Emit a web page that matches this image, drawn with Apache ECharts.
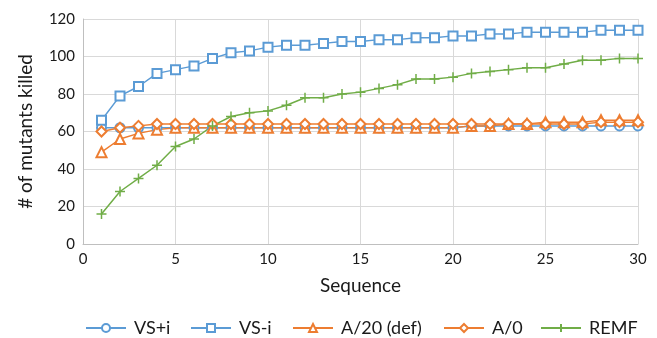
<!DOCTYPE html>
<html>
<head>
<meta charset="utf-8">
<script src="https://cdn.jsdelivr.net/npm/echarts@6/dist/echarts.min.js"></script>
<style>
html,body{margin:0;padding:0;background:#fff;}
#chart{width:657px;height:338px;}
</style>
</head>
<body>
<div id="chart"></div>
<script>
const sequence = [1,2,3,4,5,6,7,8,9,10,11,12,13,14,15,16,17,18,19,20,21,22,23,24,25,26,27,28,29,30];
const vsPlusI = [62,62,62,62,62,62,62,62,62,62,62,62,62,62,62,62,62,62,62,62,63,63,63,63,63,63,63,63,63,63];
const vsMinusI = [66,79,84,91,93,95,99,102,103,105,106,106,107,108,108,109,109,110,110,111,111,112,112,113,113,113,113,114,114,114];
const a20 = [49,56,59,61,62,62,62,62,62,62,62,62,62,62,62,62,62,62,62,62,63,63,64,64,65,65,65,66,66,66];
const a0 = [60,62,63,64,64,64,64,64,64,64,64,64,64,64,64,64,64,64,64,64,64,64,64,64,64,64,64,65,65,65];
const remf = [16,28,35,42,52,56,63,68,70,71,74,78,78,80,81,83,85,88,88,89,91,92,93,94,94,96,98,98,99,99];
const seriesNames = ['VS+i','VS-i','A/20 (def)','A/0','REMF'];
const xTicks = {min:0, max:30, interval:5};
const yTicks = {min:0, max:120, interval:20};

const font = 'Lato, "Open Sans", sans-serif';
const txt = '#1a1a1a';
const blue = '#5B9BD5', orange = '#ED7D31', green = '#70AD47';
function pairs(arr){ return sequence.map((s,i)=>[s,arr[i]]); }
function mk(name, data, color, symbol, size){
  return {
    name, type:'line', data: pairs(data), symbol, symbolSize: size,
    showAllSymbol: true,
    lineStyle:{color, width:1.5},
    itemStyle:{color, borderColor: color, borderWidth:1.5},
    color,
    emphasis:{disabled:true}, animation:false
  };
}
const legendLefts = [80, 185, 287, 438, 535];
const legends = seriesNames.map((n,i)=>({
  top:314, left:legendLefts[i], itemWidth:40, itemHeight:10, itemGap:0,
  textStyle:{fontSize:18, color:txt, fontFamily:font, padding:[0,0,0,3]},
  data:[n]
}));
const chart = echarts.init(document.getElementById('chart'));
chart.setOption({
  animation:false,
  textStyle:{fontFamily:font},
  grid:{left:83, right:19, top:19, bottom:94},
  xAxis:{
    type:'value', min:xTicks.min, max:xTicks.max, interval:xTicks.interval,
    name:'Sequence', nameLocation:'middle', nameGap:32,
    nameTextStyle:{fontSize:19, color:txt, fontFamily:font},
    axisLine:{show:true, lineStyle:{color:'#BFBFBF'}},
    axisTick:{show:false},
    axisLabel:{fontSize:15, color:txt, margin:8, fontFamily:font},
    splitLine:{show:true, lineStyle:{color:'#D9D9D9'}}
  },
  yAxis:{
    type:'value', min:yTicks.min, max:yTicks.max, interval:yTicks.interval,
    name:'# of mutants killed', nameLocation:'middle', nameGap:48,
    nameTextStyle:{fontSize:19, color:txt, fontFamily:font},
    axisLine:{show:true, lineStyle:{color:'#BFBFBF'}},
    axisTick:{show:false},
    axisLabel:{fontSize:15, color:txt, margin:8, fontFamily:font},
    splitLine:{show:true, lineStyle:{color:'#D9D9D9'}}
  },
  legend: legends,
  series:[
    mk('VS+i', vsPlusI, blue, 'emptyCircle', 9),
    mk('VS-i', vsMinusI, blue, 'emptyRect', 9),
    mk('A/20 (def)', a20, orange, 'emptyTriangle', 10),
    mk('A/0', a0, orange, 'emptyDiamond', 10),
    mk('REMF', remf, green, 'path://M5,0L5,10M0,5L10,5', 10)
  ]
});
</script>
</body>
</html>
